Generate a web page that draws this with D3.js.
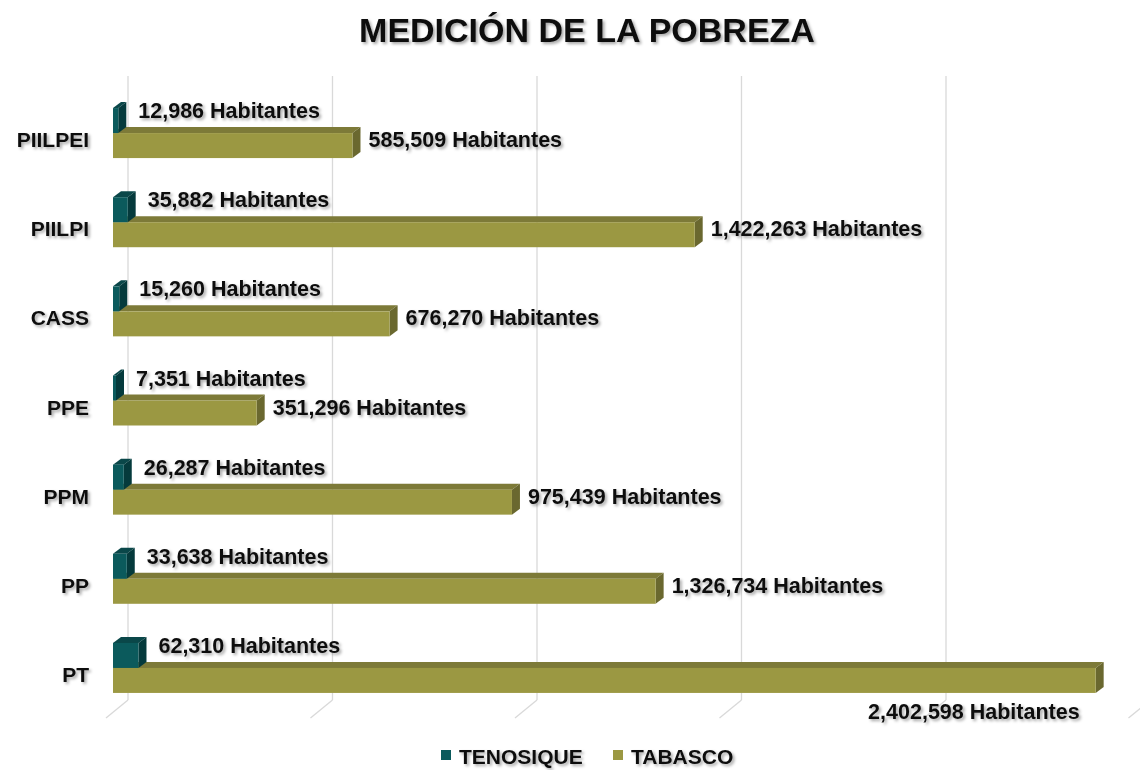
<!DOCTYPE html>
<html>
<head>
<meta charset="utf-8">
<script src="https://cdn.jsdelivr.net/npm/d3@7"></script>
<style>
    body { margin: 0; background: #ffffff; }
    text { font-family: "Liberation Sans", Arial, sans-serif; font-weight: bold; fill: #111111; }
</style>
</head>
<body>
<div id="chart"></div>
<script>
// chart data
const categories = ["PIILPEI", "PIILPI", "CASS", "PPE", "PPM", "PP", "PT"];
const tenosique = [12986, 35882, 15260, 7351, 26287, 33638, 62310];
const tabasco = [585509, 1422263, 676270, 351296, 975439, 1326734, 2402598];
const seriesNames = ["TENOSIQUE", "TABASCO"];
const xTicks = [0, 500000, 1000000, 1500000, 2000000, 2500000];

const width = 1140, height = 770;
const depth = {dx: 8, dy: -6};
const barH = 25;

const colors = {
    teal: {front: "#0b5a5c", top: "#0a4749", side: "#053a3c"},
    olive: {front: "#9b9842", top: "#7d7a38", side: "#6a682f"}
};

const svg = d3.select("#chart").append("svg")
    .attr("width", width)
    .attr("height", height);

// soft shadow used on all the texts
const shadow = svg.append("defs").append("filter")
    .attr("id", "shadow")
    .attr("x", "-10%").attr("y", "-30%")
    .attr("width", "120%").attr("height", "160%");
shadow.append("feDropShadow")
    .attr("dx", 2).attr("dy", 2)
    .attr("stdDeviation", 1.5)
    .attr("flood-color", "#000000")
    .attr("flood-opacity", 0.35);

const x = d3.scaleLinear()
    .domain([0, 2500000])
    .range([113, 1135.5]);

const y = d3.scaleBand()
    .domain(categories)
    .range([88.5, 712.5]);

// row boundary between the two bars of a category
const mid = c => y(c) + y.bandwidth() / 2;

// back wall gridlines and floor
const wallTop = 76, wallBottom = 700, floorFront = 718;
const grid = svg.append("g")
    .attr("stroke", "#d9d9d9")
    .attr("stroke-width", 1.3)
    .attr("fill", "none");
grid.selectAll("line.v")
    .data(xTicks)
    .enter()
    .append("line")
    .attr("x1", d => x(d) + 15).attr("x2", d => x(d) + 15)
    .attr("y1", wallTop).attr("y2", wallBottom);
grid.selectAll("line.f")
    .data(xTicks)
    .enter()
    .append("line")
    .attr("x1", d => x(d) + 15).attr("y1", wallBottom)
    .attr("x2", d => x(d) - 7).attr("y2", floorFront);

// draws a 3D box: front face, top face and right side
function drawBox(g, x0, x1, yTop, h, col) {
    const dx = depth.dx, dy = depth.dy;
    g.append("path")
        .attr("d", `M${x0},${yTop} L${x0 + dx},${yTop + dy} L${x1 + dx},${yTop + dy} L${x1},${yTop} Z`)
        .attr("fill", col.top);
    g.append("path")
        .attr("d", `M${x1},${yTop} L${x1 + dx},${yTop + dy} L${x1 + dx},${yTop + h + dy} L${x1},${yTop + h} Z`)
        .attr("fill", col.side);
    g.append("rect")
        .attr("x", x0).attr("y", yTop)
        .attr("width", x1 - x0).attr("height", h)
        .attr("fill", col.front);
}

const bars = svg.append("g");
categories.forEach((c, i) => {
    const g = bars.append("g");
    drawBox(g, x(0), x(tabasco[i]), mid(c), barH, colors.olive);
    drawBox(g, x(0), x(tenosique[i]), mid(c) - barH, barH, colors.teal);
});

const fmt = d3.format(",");

// value labels
const labels = svg.append("g")
    .attr("font-size", 21.5)
    .attr("filter", "url(#shadow)");
categories.forEach((c, i) => {
    labels.append("text")
        .attr("x", x(tenosique[i]) + 20)
        .attr("y", mid(c) - 15)
        .text(fmt(tenosique[i]) + " Habitantes");

    const t = labels.append("text")
        .text(fmt(tabasco[i]) + " Habitantes");
    const w = t.node().getComputedTextLength();
    if (x(tabasco[i]) + 16 + w > width) {
        // no room on the right: put it below the bar
        t.attr("x", x(tabasco[i]) - 16)
            .attr("y", mid(c) + barH + 26)
            .attr("text-anchor", "end");
    } else {
        t.attr("x", x(tabasco[i]) + 16)
            .attr("y", mid(c) + 14);
    }
});

// category labels
svg.append("g")
    .attr("font-size", 21)
    .attr("filter", "url(#shadow)")
    .selectAll("text")
    .data(categories)
    .enter()
    .append("text")
    .attr("x", 89)
    .attr("y", d => mid(d) + 14)
    .attr("text-anchor", "end")
    .text(d => d);

// title
svg.append("text")
    .attr("x", 587)
    .attr("y", 42)
    .attr("text-anchor", "middle")
    .attr("font-size", 34)
    .attr("filter", "url(#shadow)")
    .text("MEDICIÓN DE LA POBREZA");

// legend
const legendX = [441, 613];
const legendCol = [colors.teal.front, colors.olive.front];
const legend = svg.append("g");
seriesNames.forEach((s, i) => {
    legend.append("rect")
        .attr("x", legendX[i]).attr("y", 750)
        .attr("width", 10).attr("height", 10)
        .attr("fill", legendCol[i]);
    legend.append("text")
        .attr("x", legendX[i] + 18)
        .attr("y", 764)
        .attr("font-size", 21)
        .attr("filter", "url(#shadow)")
        .text(s);
});
</script>
</body>
</html>
